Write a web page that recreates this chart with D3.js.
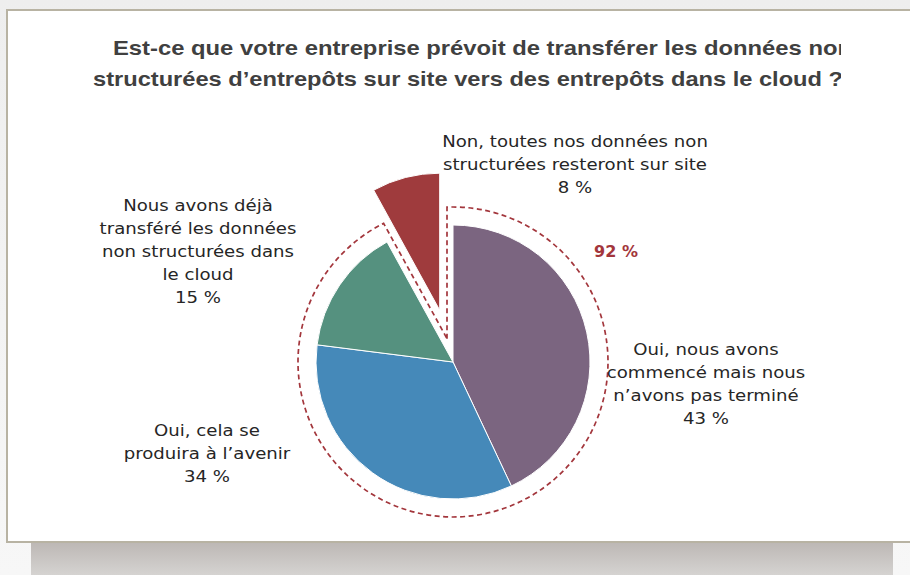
<!DOCTYPE html>
<html><head><meta charset="utf-8">
<script src="https://cdn.jsdelivr.net/npm/d3@7"></script>
<style>
html,body{margin:0;padding:0;background:#fff;}
svg{display:block;}
</style></head>
<body>
<svg id="chart" width="910" height="575"></svg>
<script>
// ---- data ----
const titleLines = ["Est-ce que votre entreprise prévoit de transférer les données non",
                    "structurées d’entrepôts sur site vers des entrepôts dans le cloud ?"];
const categories = ["Oui, nous avons commencé mais nous n’avons pas terminé",
                    "Oui, cela se produira à l’avenir",
                    "Nous avons déjà transféré les données non structurées dans le cloud",
                    "Non, toutes nos données non structurées resteront sur site"];
const values = [43, 34, 15, 8];
const labelLines = [
  ["Oui, nous avons", "commencé mais nous", "n’avons pas terminé", "43 %"],
  ["Oui, cela se", "produira à l’avenir", "34 %"],
  ["Nous avons déjà", "transféré les données", "non structurées dans", "le cloud", "15 %"],
  ["Non, toutes nos données non", "structurées resteront sur site", "8 %"]
];
const groupLabel = "92 %";
const colors = ["#7b6580", "#4589b9", "#55917f", "#9f3b3d"];

// ---- layout ----
const svg = d3.select("#chart");
const defs = svg.append("defs");

const bgGrad = defs.append("linearGradient").attr("id","bgG").attr("x1",0).attr("y1",0).attr("x2",0).attr("y2",1);
bgGrad.append("stop").attr("offset","0%").attr("stop-color","#eeeeee");
bgGrad.append("stop").attr("offset","100%").attr("stop-color","#f7f7f7");
const shGrad = defs.append("linearGradient").attr("id","shG").attr("x1",0).attr("y1",0).attr("x2",0).attr("y2",1);
shGrad.append("stop").attr("offset","0%").attr("stop-color","#bdb8b5");
shGrad.append("stop").attr("offset","100%").attr("stop-color","#d5d3d1");

svg.append("rect").attr("width",910).attr("height",575).attr("fill","url(#bgG)");
// panel
svg.append("rect").attr("x",7).attr("y",10).attr("width",910).attr("height",532)
   .attr("fill","#fff").attr("stroke","#b8b3a3").attr("stroke-width",2);
// bottom shadow band
svg.append("rect").attr("x",31).attr("y",543).attr("width",862).attr("height",32).attr("fill","url(#shG)");

// title (clipped at right)
const titleX = [113, 93], titleW = [739, 750];
defs.append("clipPath").attr("id","titleClip").append("rect").attr("x",0).attr("y",20).attr("width",841).attr("height",80);
const title = svg.append("g").attr("clip-path","url(#titleClip)");
title.selectAll("text").data(titleLines).join("text")
  .attr("x",(d,i)=>titleX[i]).attr("y",(d,i)=>55+i*31)
  .attr("textLength",(d,i)=>titleW[i]).attr("lengthAdjust","spacingAndGlyphs")
  .attr("font-family","Liberation Sans, Arial, sans-serif")
  .attr("font-weight","bold").attr("font-size",21)
  .attr("fill","#404040")
  .text(d=>d);

// pie
const cx = 453, cy = 362, R = 137, explode = 53.5, pad = 18, off = 6;
const pie = d3.pie().sort(null).startAngle(0).endAngle(2*Math.PI);
const arcs = pie(values);
const arc = d3.arc().innerRadius(0).outerRadius(R);
const g = svg.append("g").attr("transform",`translate(${cx},${cy})`);
g.selectAll("path.slice").data(arcs).join("path")
  .attr("class","slice")
  .attr("transform",(d,i)=>{
    if(i!==3) return null;
    const m=(d.startAngle+d.endAngle)/2;
    return `translate(${explode*Math.sin(m)},${-explode*Math.cos(m)})`;
  })
  .attr("d",arc).attr("fill",(d,i)=>colors[i])
  .attr("stroke","#fff").attr("stroke-width",1);

// dashed outline around the 92 % group
const a0 = arcs[0].startAngle, a1 = arcs[2].endAngle;
const RO = R + pad;
const pt = a => [Math.sin(a), -Math.cos(a)];
const perp = a => [Math.cos(a), Math.sin(a)];
function lineCircle(a, s){
  const p=perp(a), d=pt(a);
  const ox=s*off*p[0], oy=s*off*p[1];
  const b = ox*d[0]+oy*d[1], c = ox*ox+oy*oy-RO*RO;
  const t = -b+Math.sqrt(b*b-c);
  return [ox+t*d[0], oy+t*d[1]];
}
function intersect(){
  const p1=perp(a0), d1=pt(a0), p2=perp(a1), d2=pt(a1);
  const o1=[-off*p1[0],-off*p1[1]], o2=[off*p2[0],off*p2[1]];
  const det = d1[0]*(-d2[1]) - d1[1]*(-d2[0]);
  const rx=o2[0]-o1[0], ry=o2[1]-o1[1];
  const t = (rx*(-d2[1]) - ry*(-d2[0]))/det;
  return [o1[0]+t*d1[0], o1[1]+t*d1[1]];
}
const P0 = intersect(), P1 = lineCircle(a0,-1), P2 = lineCircle(a1,1);
const pth = d3.path();
pth.moveTo(P0[0],P0[1]);
pth.lineTo(P1[0],P1[1]);
const ang1 = Math.atan2(P1[1],P1[0]), ang2 = Math.atan2(P2[1],P2[0]);
pth.arc(0,0,RO,ang1,ang2,false);
pth.closePath();
g.append("path").attr("d",pth.toString()).attr("fill","none")
  .attr("stroke","#a3363c").attr("stroke-width",1.7).attr("stroke-dasharray","5,3.5");

// labels
const labelPos = [[706,355],[207,436],[198,211],[575,147]];
const lineH = 23;
const lab = svg.append("g").attr("font-family","DejaVu Sans, sans-serif").attr("font-size",15.5).attr("fill","#262626");
labelLines.forEach((lines,i)=>{
  lab.append("g").attr("transform",`translate(${labelPos[i][0]},0) scale(1.17,1)`)
    .append("text").attr("text-anchor","middle")
    .selectAll("tspan").data(lines).join("tspan")
    .attr("x",0).attr("y",(d,j)=>labelPos[i][1]+j*lineH)
    .text(d=>d);
});
svg.append("text").attr("x",616).attr("y",257).attr("text-anchor","middle")
  .attr("font-family","DejaVu Sans, sans-serif").attr("font-weight","bold").attr("font-size",16)
  .attr("fill","#a3363c").text(groupLabel);
</script>
</body></html>
